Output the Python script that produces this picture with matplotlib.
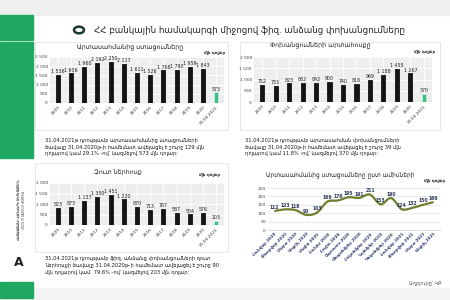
import matplotlib.pyplot as plt
import numpy as np
from matplotlib.patches import Rectangle, Circle, PathPatch
from matplotlib.path import Path

# data
years = ['2009', '2010', '2011', '2012', '2013', '2014', '2015', '2016',
         '2017', '2018', '2019', '2020', '31.04.2021']
inflow = [1536, 1606, 1960, 2192, 2250, 2117, 1611, 1526, 1768, 1790, 1959, 1843, 573]
outflow = [752, 733, 823, 862, 842, 900, 740, 816, 969, 1188, 1455, 1267, 370]
net_inflow = [823, 873, 1137, 1350, 1451, 1220, 870, 713, 767, 587, 504, 576, 203]

months = ['Հունվար 2020', 'Փետրվար 2020', 'Մարտ 2020', 'Ապրիլ 2020', 'Մայիս 2020',
          'Հունիս 2020', 'Հուլիս 2020', 'Օգոստոս 2020', 'Սեպտեմբեր 2020',
          'Հոկտեմբեր 2020', 'Նոյեմբեր 2020', 'Դեկտեմբեր 2020', 'Հունվար 2021',
          'Փետրվար 2021', 'Մարտ 2021', 'Ապրիլ 2021']
monthly_inflow = [112, 123, 118, 90, 103, 169, 176, 195, 191, 211, 153, 190, 124, 132, 150, 166]

GREEN = '#1fa862'
W, H = 450, 300
plt.rcParams['font.family'] = ['DejaVu Sans']

fig = plt.figure(figsize=(4.5, 3), dpi=100)
fig.patch.set_facecolor('white')


def rect(x0, y0, x1, y1):
    return [x0 / W, 1 - y1 / H, (x1 - x0) / W, (y1 - y0) / H]


def ftext(x, y, s, **kw):
    fig.text(x / W, 1 - y / H, s, **kw)


def fbox(x0, y0, x1, y1, **kw):
    fig.patches.append(Rectangle((x0 / W, 1 - y1 / H), (x1 - x0) / W, (y1 - y0) / H,
                                 transform=fig.transFigure, zorder=-5, **kw))


# page decorations
fbox(0, 0, 450, 15, color='#efefef')
fbox(0, 288, 450, 300, color='#f3f3f3')
fbox(0, 15, 33, 40, color=GREEN)
fbox(0, 42, 33, 158, color=GREEN)
fbox(0, 282, 33, 298, color=GREEN)
ftext(19, 262, 'A', fontsize=9, fontweight='bold', color='#222222', ha='center', va='center')
ftext(19, 210, 'ՀԱՅԱՍՏԱՆԻ ԲԱՆԿԵՐԻ ՄԻՈՒԹՅՈՒՆ', fontsize=2.3, fontweight='bold',
      color='#333333', rotation=90, ha='center', va='center')
ftext(24, 210, 'UNION OF BANKS OF ARMENIA', fontsize=1.8, color='#444444',
      rotation=90, ha='center', va='center')

# header
fig.patches.append(Circle((79 / W, 1 - 30 / H), 5 / W, transform=fig.transFigure,
                          fill=False, edgecolor='#1e3a2c', linewidth=1.8, zorder=2))
ftext(94, 30, 'ՀՀ բանկային համակարգի միջոցով ֆիզ. անձանց փոխանցումները',
      fontsize=6.3, color='#222222', va='center')

# white chart panels
for (x0, y0, x1, y1) in [(35, 42, 228, 130), (240, 42, 440, 130), (35, 163, 228, 252)]:
    fbox(x0, y0, x1, y1, facecolor='white', edgecolor='#dddddd', linewidth=0.5)


def fmt(v):
    return f'{v:,}'.replace(',', ' ')


def bar_chart(box, values, ymax):
    ax = fig.add_axes(box, zorder=3)
    x = np.arange(len(values))
    colors = ['#141414'] * (len(values) - 1) + ['#3cc084']
    edges = ['#141414'] * (len(values) - 1) + ['#bff0d6']
    ax.bar(x, values, width=0.3, color=colors, edgecolor=edges, linewidth=0.6, zorder=3)
    for i, v in enumerate(values):
        ax.text(i, v + ymax * 0.02, fmt(v), ha='center', va='bottom', fontsize=3.4,
                color='#222222', zorder=4)
    ax.set_xlim(-0.6, len(values) - 0.4)
    ax.set_ylim(0, ymax)
    ticks = np.arange(0, ymax + 1, 500)
    ax.set_yticks(ticks)
    ax.set_yticklabels([fmt(int(t)) for t in ticks], fontsize=3.2, color='#444444')
    ax.set_xticks(x)
    ax.set_xticklabels(years, rotation=45, ha='right', rotation_mode='anchor',
                       fontsize=3.2, color='#333333')
    ax.set_facecolor('#eeeeee')
    ax.grid(True, color='white', linewidth=0.6, zorder=0)
    ax.tick_params(length=0, pad=1.5)
    for s in ax.spines.values():
        s.set_visible(False)
    return ax


bar_chart(rect(50, 57, 224, 103), inflow, 2500)
ftext(130, 48, 'Արտասահմանից ստացումները', fontsize=4.5, color='#222222', ha='center', va='center')
ftext(215, 53, 'մլն դոլար', fontsize=3, fontweight='bold', color='#222222', ha='center', va='center')

bar_chart(rect(254, 57, 432, 102), outflow, 2000)
ftext(320, 46, 'Փոխանցումների արտահոսքը', fontsize=4.5, color='#222222', ha='center', va='center')
ftext(425, 52, 'մլն դոլար', fontsize=3, fontweight='bold', color='#222222', ha='center', va='center')

bar_chart(rect(50, 183, 224, 225), net_inflow, 2000)
ftext(118, 172, 'Զուտ ներհոսք', fontsize=4.5, color='#222222', ha='center', va='center')
ftext(210, 175, 'մլն դոլար', fontsize=3, fontweight='bold', color='#222222', ha='center', va='center')

# paragraphs
txt_kw = dict(fontsize=3.7, color='#1a1a1a', va='top', linespacing=1.4)
ftext(45, 138, '31.04.2021թ դրությամբ արտասահմանից ստացումների\n'
      'ծավալը 31.04.2020թ-ի համեմատ ավելացել է շուրջ 129 մլն\n'
      'դոլարով կամ 29.1% -ով՝ կազմելով 573 մլն դոլար:', **txt_kw)
ftext(245, 138, '31.04.2021թ դրությամբ արտասահման փոխանցումների\n'
      'ծավալը 31.04.2020թ-ի համեմատ ավելացել է շուրջ 39 մլն\n'
      'դոլարով կամ 11.8% -ով՝ կազմելով 370 մլն դոլար:', **txt_kw)
ftext(45, 256, '31.04.2021թ դրությամբ ֆիզ. անձանց փոխանցումների զուտ\n'
      'ներհոսքի ծավալը 31.04.2020թ-ի համեմատ ավելացել է շուրջ 90\n'
      'մլն դոլարով կամ  79.6% -ով՝ կազմելով 203 մլն դոլար:', **txt_kw)

# monthly line chart
ax4 = fig.add_axes(rect(268, 188, 440, 230), zorder=3)
xm = np.arange(len(monthly_inflow))
ym = np.array(monthly_inflow, dtype=float)
# smooth bezier path through the points (Catmull-Rom style control points)
verts = [(xm[0], ym[0])]
codes = [Path.MOVETO]
for i in range(len(xm) - 1):
    p0 = (xm[max(i - 1, 0)], ym[max(i - 1, 0)])
    p1 = (xm[i], ym[i])
    p2 = (xm[i + 1], ym[i + 1])
    p3 = (xm[min(i + 2, len(xm) - 1)], ym[min(i + 2, len(xm) - 1)])
    c1 = (p1[0] + (p2[0] - p0[0]) / 6, p1[1] + (p2[1] - p0[1]) / 6)
    c2 = (p2[0] - (p3[0] - p1[0]) / 6, p2[1] - (p3[1] - p1[1]) / 6)
    verts += [c1, c2, p2]
    codes += [Path.CURVE4] * 3
ax4.add_patch(PathPatch(Path(verts, codes), facecolor='none', edgecolor='#6f7f2e',
                        linewidth=1.6, zorder=3))
for i, v in enumerate(monthly_inflow):
    ax4.text(i, v + 8, str(v), ha='center', va='bottom', fontsize=3.3,
             fontweight='bold', color='#2f3b5c', zorder=4)
ax4.set_xlim(-0.6, len(monthly_inflow) - 0.4)
ax4.set_ylim(0, 250)
ax4.set_yticks(np.arange(0, 251, 50))
ax4.set_yticklabels([str(t) for t in range(0, 251, 50)], fontsize=3.2, color='#444444')
ax4.set_xticks(xm)
ax4.set_xticklabels(months, rotation=45, ha='right', rotation_mode='anchor',
                    fontsize=2.9, fontweight='bold', color='#2f3b6c')
ax4.grid(True, axis='y', color='#e3e3e3', linewidth=0.5)
ax4.tick_params(length=0, pad=1.5)
for s in ax4.spines.values():
    s.set_visible(False)
ax4.spines['bottom'].set_visible(True)
ax4.spines['bottom'].set_color('#dddddd')
ftext(340, 176, 'Արտասահմանից ստացումները ըստ ամիսների', fontsize=4.2,
      color='#222222', ha='center', va='center')
ftext(435, 181, 'մլն դոլար', fontsize=3, fontweight='bold', color='#222222', ha='center', va='center')

ftext(425, 283, 'Աղբյուրը՝ ԿԲ', fontsize=3.5, color='#555555', ha='center', va='center')

fig.savefig('out.png', dpi=100, facecolor=fig.get_facecolor())
